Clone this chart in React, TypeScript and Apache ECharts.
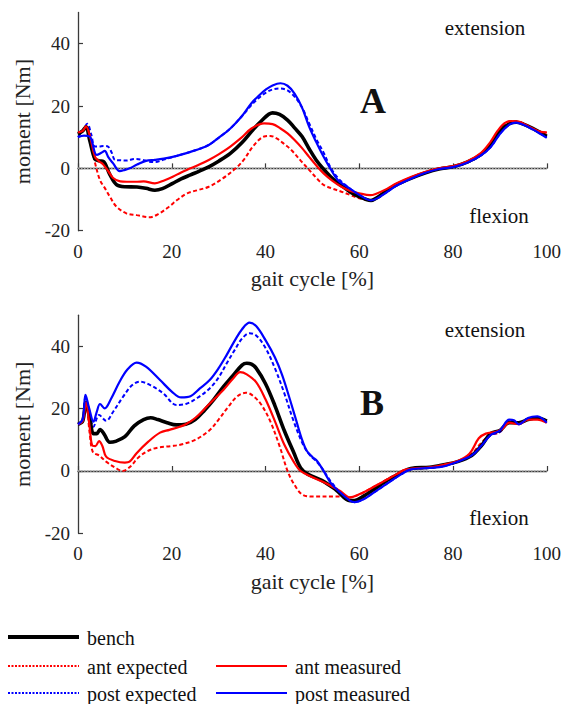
import React, { useEffect, useRef } from "react";
import * as echarts from "echarts";

// ---- Panel A (gait cycle %, moment Nm) ----
const benchA: [number, number][] = [[0,11],[1,12],[1.7,13.3],[2.5,9],[3.6,3],[4.5,2.4],[5.4,2.2],[6.8,-2],[8.2,-5.2],[10,-5.9],[12.6,-6],[14.5,-6.4],[16.4,-7],[18,-6.5],[20.2,-4.8],[22,-3.4],[24,-2.1],[26,-0.8],[27.9,0.5],[30,2.3],[32.5,4.8],[35,8.3],[37,11.8],[39,15],[41.5,17.8],[43,17.3],[44.7,15.5],[46.2,13],[47.8,10.2],[49.3,6.3],[50.8,2.7],[52.4,-0.3],[53.9,-2.7],[55.5,-4.8],[57,-6.4],[58.5,-8],[60,-9.1],[61.5,-10],[62.5,-10.3],[64,-9.2],[66,-7],[68,-5.2],[71,-3.2],[74,-1.5],[77,-0.2],[80,0.5],[83,2],[86,4.5],[88,7.5],[90,12],[92,14.3],[93.5,14.8],[95,14.2],[97,12.8],[100,10.3]];
const antExpA: [number, number][] = [[0,11.5],[1,12],[1.7,13],[2.6,9],[3.6,2],[4.7,-3.8],[5.8,-6.5],[6.8,-9.1],[8.2,-12.3],[10.4,-14.5],[12.5,-15],[15.2,-15.7],[17.3,-14.5],[19.4,-12.3],[21.3,-10],[23.3,-8],[25.5,-7],[27.9,-5.9],[30.9,-3.2],[34,0.5],[35.5,3],[37,6.4],[38.5,9],[39.7,10.2],[41,10.4],[42.4,9.6],[44,7.8],[45.5,5.9],[47.5,2.5],[49.3,-0.5],[51,-3.3],[52.4,-5.3],[54.3,-6.5],[56.2,-7.5],[58,-8.5],[60,-9.6],[62.3,-10.2],[63.5,-9.8],[66,-7],[68,-5],[71,-3],[74,-1.3],[77,0],[80,0.6],[83,2],[86,4.8],[88,8.2],[89.5,11.5],[91,14.3],[92.5,15.2],[94,15],[95.5,14],[97,12.8],[98.5,11.8],[100,11.5]];
const postExpA: [number, number][] = [[0,10],[1,12],[2,14.3],[2.8,11],[3.6,7],[4.5,7],[5.4,7.2],[6.4,7],[7.2,5],[7.9,2.7],[9,2.6],[10.4,2.5],[12,3],[13.5,2.8],[15,2.2],[16.4,2],[18.3,2.8],[20.2,3.6],[22,4.4],[24,5.3],[26,6.3],[27.9,7.5],[30,9.8],[32.5,12.8],[35,16.8],[37,20.3],[38.5,22.5],[40.1,24.3],[41.5,25.3],[43.2,25.6],[44.7,25],[46.2,23],[47.8,19.5],[49.3,14.5],[50.8,9.5],[52.4,5],[53.8,0.5],[55.4,-3],[57,-5.3],[58.5,-7],[60,-8.5],[61.5,-9.8],[62.5,-10.3],[64,-9.5],[66,-7.5],[68,-5.5],[71,-3.3],[74,-1.5],[77,-0.2],[80,0.4],[83,1.8],[86,4.2],[88,6.8],[90,11],[92,14],[93.5,14.8],[95,14.2],[97,12.7],[98.5,11.3],[100,10]];
const antMeasA: [number, number][] = [[0,11.5],[1,12],[1.7,13.5],[2.6,10],[3.6,3.8],[4.5,2.3],[5.4,1.2],[6.5,-1],[7.5,-3.1],[9,-4.2],[10.4,-4.3],[12.6,-4.3],[14,-4.2],[16.4,-4.8],[18.5,-3.8],[20.2,-2.7],[22,-1.3],[24,0],[26,1.3],[27.9,2.7],[30,4.5],[32.5,7],[35,10],[37,12.8],[39.7,14.4],[41.5,14.2],[43.2,12.8],[44.7,11.2],[46.2,9.1],[47.8,6.5],[49.3,3.7],[50.8,1],[52.4,-1.6],[54.3,-4],[56.2,-5.9],[58,-7.2],[60,-8],[62.3,-8.6],[63.5,-8.2],[66,-6.5],[68,-4.8],[71,-2.8],[74,-1.2],[77,0],[80,0.7],[83,2.2],[86,5],[88,8.5],[89.5,12],[91,14.5],[92.5,15.2],[94,15],[95.5,14],[97,12.8],[98.5,11.8],[100,11.5]];
const postMeasA: [number, number][] = [[0,10],[1.3,10.5],[2.6,10],[4,4.3],[5,5],[5.7,5.6],[6.5,3.5],[7.5,1.6],[8.9,-0.9],[10,-0.5],[11,0],[12.6,1.2],[14.5,2.4],[16.4,2.7],[18.3,3.1],[20.2,3.7],[22,4.4],[24,5.3],[26,6.3],[27.9,7.5],[30,9.8],[32.5,12.8],[35,16.8],[37,20.9],[38.5,23.2],[40.1,25.3],[41.5,26.6],[43.2,27.3],[44.7,26.5],[46.2,24],[47.8,19.5],[49.3,13.4],[50.8,8.5],[52.4,3.7],[54,-0.5],[55.4,-3.7],[57,-5.5],[58.5,-7],[60,-8.5],[61.5,-9.8],[62.5,-10.3],[64,-9.5],[66,-7.5],[68,-5.5],[71,-3.3],[74,-1.5],[77,-0.2],[80,0.4],[83,1.8],[86,4.2],[88,6.8],[90,11],[92,14],[93.5,14.7],[95,14],[97,12.5],[98.5,11.2],[100,9.8]];

// ---- Panel B ----
const benchB: [number, number][] = [[0,15],[1,16],[1.7,22],[2.5,17],[3.3,12],[4,12],[4.7,13.3],[5.5,12],[6.8,9.2],[8,9.5],[10,11],[12,14.5],[14,16.5],[15.5,17.1],[17,16.5],[19,15.5],[21,14.8],[23,15],[25,16.5],[27,19.5],[29,23],[31,27],[33,30.5],[35,34],[36,34.6],[37,34.3],[38,33],[40,28],[42,21],[44,13],[46,6],[47.5,1],[49,-1],[52,-3],[55,-6],[58,-9.5],[59,-9.5],[61,-8],[63,-6],[66,-3],[69,-0.5],[71,0.8],[75,1.2],[78,2],[81,3],[84,5],[86,8],[88,12],[90,13],[92,15.5],[94,15.5],[96,16.5],[98,17],[100,16]];
const antExpB: [number, number][] = [[0,15],[1,16],[1.7,22],[2.5,12],[3.2,6],[4.5,5],[6,3],[8,1],[9.5,0],[11,1.2],[13,4.5],[15,6.5],[17,7.5],[20,8],[22,8.5],[25,10],[28,13],[30,16.5],[32,20.5],[34,24],[35.8,25.1],[37,24.5],[39,21.5],[41,16],[43,8],[44.7,0],[46,-4],[47.8,-7.5],[50,-8.2],[55,-8.2],[57,-8.3],[58,-8.5],[60,-7.5],[62,-6],[65,-3.5],[68,-1],[70,0.5],[75,1],[78,1.8],[81,3],[84,5.5],[86,9],[88,11.5],[90,12.5],[92,15.5],[94,15.2],[96,16.5],[98,16.8],[100,16]];
const postExpB: [number, number][] = [[0,15],[1,16.5],[1.6,23.5],[2.4,19],[3.3,14.2],[4.5,18],[6,16.1],[7.5,19],[9.6,23.8],[11.5,27.5],[13.2,28.7],[15.5,27.5],[18.2,24.9],[21,21.2],[23,21.5],[25.5,23.5],[28.1,26.5],[30,30],[31.7,34.5],[33.5,39],[35,42.5],[36.6,44.2],[38,43.5],[40,39.5],[42,33],[44,25],[46,16],[48,8.5],[49.5,5],[50.8,3.2],[52,1],[54,-3.5],[56,-7],[58,-9.5],[59,-10],[61,-9],[63,-7],[66,-4],[69,-1],[71,0.5],[75,1],[78,1.5],[81,3],[84,5],[86,8],[88,11.5],[90,12.5],[92,16],[93,16],[94,15],[96,16.8],[98,17.2],[100,16]];
const antMeasB: [number, number][] = [[0,15],[1,16],[1.7,22],[2.5,14],[3,8.3],[3.7,8],[4.5,9.6],[5.2,8],[6,4.6],[7.9,3.2],[10,2.7],[11,3],[12.5,5.7],[15,9.4],[17.5,12.3],[19.5,13.2],[21.7,14.2],[23,15],[25,17],[28,21.5],[31,26],[33,29.5],[34.6,31.7],[36,31],[38,28.5],[40,23],[42,16],[44,8.5],[46,3],[47.5,0],[50,-2],[53,-4],[56,-6.5],[58,-8.5],[60,-7.5],[62,-6],[65,-3.5],[68,-1],[70,0.5],[75,1.2],[78,2],[81,3.2],[83.5,5.5],[85.5,10.5],[87,12],[89,12.5],[90.5,13.5],[92,15.5],[94,15],[96,16.5],[98,16.5],[100,15.5]];
const postMeasB: [number, number][] = [[0,15],[1,16.5],[1.6,24.4],[2.4,20],[3.3,15.8],[4,19],[4.7,21.5],[5.7,20.1],[7,23],[8.9,28.7],[10.5,32.5],[12.5,34.8],[14.5,33.5],[17.5,29.2],[20,25.5],[22,23.6],[24,24],[26,26.5],[28.1,29.2],[30,33],[31.7,37.2],[33.5,42],[35,45.5],[36.6,47.6],[38,46.5],[40,42],[42,36.5],[43.5,31],[45,24],[46.5,16.5],[47.7,10.5],[48.8,6.5],[50,4.5],[51,3.2],[52.2,0.5],[54,-4],[56,-7],[58,-9.5],[59,-10],[61,-9],[63,-7],[66,-4],[69,-1],[71,0.5],[75,1],[78,1.5],[81,3],[84,5],[86,8],[88,11.5],[90,13],[92,16.5],[93,16.3],[94,15],[96,17],[98,17.5],[100,15.5]];

const zeroLine: [number, number][] = [[0, 0], [100, 0]];
const yTicks = [-20, 0, 20, 40];
const panelLabels = ["A", "B"];
const legendNames = ["bench", "ant expected", "post expected", "ant measured", "post measured"];

const FONT = "'Liberation Serif', 'Times New Roman', serif";
const RED = "#ff0000";
const BLUE = "#0000ff";

export default function App() {
  const ref = useRef<HTMLDivElement>(null);
  useEffect(() => {
    if (!ref.current) return;
    const chart = echarts.init(ref.current, undefined, { renderer: "svg" });

    const mk = (name: string, data: [number, number][], idx: number, color: string, width: number, dashed: boolean, z: number) => ({
      name,
      type: "line",
      xAxisIndex: idx,
      yAxisIndex: idx,
      data,
      smooth: 0.35,
      symbol: "none",
      z,
      lineStyle: { color, width, type: dashed ? [4, 2.5] : "solid" },
      itemStyle: { color },
    });

    const series: any[] = [];
    const sets = [
      [benchA, antExpA, postExpA, antMeasA, postMeasA],
      [benchB, antExpB, postExpB, antMeasB, postMeasB],
    ];
    sets.forEach((s, i) => {
      series.push({
        type: "line", xAxisIndex: i, yAxisIndex: i, data: zeroLine, symbol: "none", z: 1, silent: true,
        lineStyle: { color: "#a8a8a8", width: 1.5, type: [1.5, 1.5] },
      });
      series.push(mk(legendNames[1], s[1], i, RED, 2, true, 2));
      series.push(mk(legendNames[2], s[2], i, BLUE, 2, true, 2));
      series.push(mk(legendNames[0], s[0], i, "#000000", 3.6, false, 3));
      series.push(mk(legendNames[3], s[3], i, RED, 2.2, false, 4));
      series.push(mk(legendNames[4], s[4], i, BLUE, 2.2, false, 5));
    });

    const axisColor = "#3a3a3a";
    const xAx = (i: number) => ({
      type: "value", gridIndex: i, min: 0, max: 100, interval: 20,
      axisLine: { show: true, lineStyle: { color: axisColor, width: 1.3 } },
      axisTick: { show: true, inside: true, length: 5, lineStyle: { color: axisColor, width: 1.2 } },
      axisLabel: { fontFamily: FONT, fontSize: 19, color: "#222", margin: 11 },
      splitLine: { show: false },
      name: "gait cycle [%]", nameLocation: "middle", nameGap: 37,
      nameTextStyle: { fontFamily: FONT, fontSize: 22, color: "#222" },
    });
    const yAx = (i: number) => ({
      type: "value", gridIndex: i, min: -20, max: 50, interval: 20,
      axisLine: { show: true, lineStyle: { color: axisColor, width: 1.3 } },
      axisTick: { show: true, inside: true, length: 5, customValues: yTicks, lineStyle: { color: axisColor, width: 1.2 } },
      axisLabel: { fontFamily: FONT, fontSize: 19, color: "#222", margin: 8, customValues: yTicks },
      splitLine: { show: false },
      name: "moment [Nm]", nameLocation: "middle", nameGap: 45,
      nameTextStyle: { fontFamily: FONT, fontSize: 22, color: "#222" },
    });

    const txt = (text: string, x: number, y: number, size: number, bold = false, align = "center") => ({
      type: "text", x, y, silent: true,
      style: { text, fontFamily: FONT, fontSize: size, fontWeight: bold ? "bold" : "normal", fill: "#111", align, verticalAlign: "middle" },
    });
    const seg = (x1: number, x2: number, y: number, color: string, width: number, dash?: number[]) => ({
      type: "line", silent: true,
      shape: { x1, y1: y, x2, y2: y },
      style: { stroke: color, lineWidth: width, lineDash: dash },
    });

    const graphic: any[] = [
      txt("extension", 485, 28, 21),
      txt("flexion", 499, 216, 21),
      txt(panelLabels[0], 373, 101, 36, true),
      txt("extension", 485, 330, 21),
      txt("flexion", 499, 518, 21),
      txt(panelLabels[1], 372, 403, 36, true),
      seg(8, 79, 637, "#000", 4),
      seg(8, 79, 666, RED, 2, [2, 1.5]),
      seg(8, 79, 693, BLUE, 2, [2, 1.5]),
      seg(216, 287, 666, RED, 2.2),
      seg(216, 287, 693, BLUE, 2.2),
      txt(legendNames[0], 87, 638, 20, false, "left"),
      txt(legendNames[1], 87, 667, 20, false, "left"),
      txt(legendNames[2], 87, 694, 20, false, "left"),
      txt(legendNames[3], 295, 667, 20, false, "left"),
      txt(legendNames[4], 295, 694, 20, false, "left"),
    ];

    chart.setOption({
      animation: false,
      backgroundColor: "#ffffff",
      grid: [
        { left: 78, top: 12.5, width: 469.7, height: 218.2 },
        { left: 78, top: 315.2, width: 469.7, height: 218.1 },
      ],
      xAxis: [xAx(0), xAx(1)],
      yAxis: [yAx(0), yAx(1)],
      series,
      graphic,
    });
    return () => chart.dispose();
  }, []);
  return <div ref={ref} style={{ position: "absolute", left: 0, top: 0, width: 564, height: 704 }} />;
}
